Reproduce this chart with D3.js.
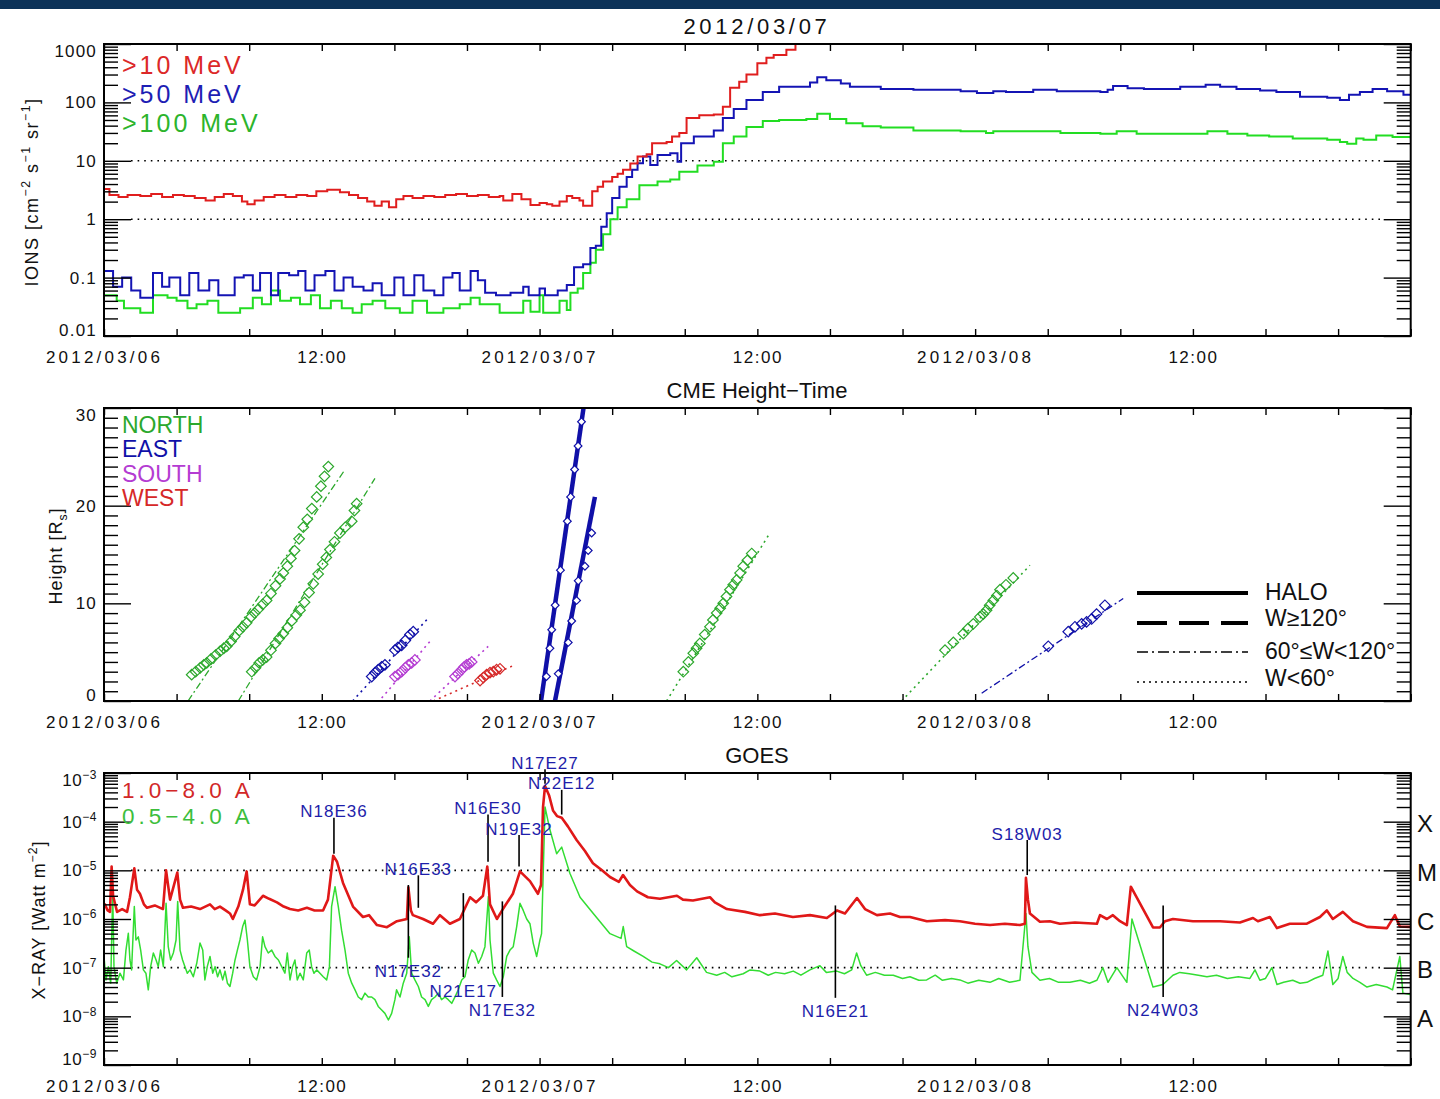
<!DOCTYPE html>
<html>
<head>
<meta charset="utf-8">
<script src="https://cdn.jsdelivr.net/npm/d3@7"></script>
<style>
  body { margin: 0; background: #fff; }
  svg { display: block; font-family: "Liberation Sans", Arial, sans-serif; }
</style>
</head>
<body>
<svg id="chart" width="1440" height="1099"></svg>
<script>
// ---------------------------------------------------------------- data
// Time is in hours from 2012/03/06 00:00 UT.
const timeTickLabels = ["2012/03/06", "12:00", "2012/03/07", "12:00", "2012/03/08", "12:00"];
const panelTitles = ["2012/03/07", "CME Height\u2212Time", "GOES"];

// Integral proton flux, [hour, pfu]
const protonLabels = [">10 MeV", ">50 MeV", ">100 MeV"];
const protonTicks = [0.01, 0.1, 1, 10, 100, 1000];
const protonTickLabels = ["0.01", "0.1", "1", "10", "100", "1000"];
const protonRefLevels = [10, 1];

const protonGt10 = [
  [0,3.3],[0.3,2.6],[0.8,2.4],[1.3,2.6],[2,2.5],[2.6,2.7],[3.2,2.4],[3.8,2.6],[4.4,2.5],[5,2.3],
  [5.6,2.1],[6.1,2.4],[6.6,2.7],[7.1,2.5],[7.6,2.0],[7.9,1.8],[8.3,2.1],[8.8,2.4],[9.4,2.6],[10,2.4],
  [10.6,2.6],[11.2,2.5],[11.7,3.0],[12.3,3.2],[13,2.9],[13.5,2.6],[14,2.3],[14.5,2.0],[14.9,1.7],[15.3,2.0],
  [15.7,1.6],[16.1,2.2],[16.5,2.5],[17,2.3],[17.6,2.5],[18.2,2.4],[18.8,2.6],[19.4,2.7],[20,2.5],[20.6,2.6],
  [21.2,2.4],[21.8,2.5],[22,2.1],[22.5,2.7],[23,2.2],[23.5,1.75],[24,1.9],[24.4,1.8],[24.7,1.7],[25.1,2.0],
  [25.5,2.5],[25.8,2.3],[26.2,2.1],[26.4,1.7],[26.9,3.0],[27.2,3.6],[27.5,4.4],[28.0,5.3],[28.3,6.0],[28.6,7.0],
  [29.0,9],[29.4,11.8],[29.9,13],[30.2,20],[31.0,21],[31.3,26],[31.7,30],[32.1,54],[32.8,60],[33.6,62],
  [34.1,84],[34.5,178],[35.0,225],[35.4,300],[36.0,470],[36.5,580],[36.9,650],[37.6,800],[38.1,1000],[38.4,1300],[40,1600]
];
const protonGt50 = [
  [0,0.13],[0.5,0.07],[1,0.1],[1.5,0.06],[2,0.045],[2.7,0.12],[3.2,0.07],[3.6,0.1],[4.2,0.05],[4.7,0.12],
  [5.2,0.06],[5.8,0.09],[6.3,0.05],[7.2,0.1],[7.7,0.11],[8.2,0.06],[8.6,0.12],[9.2,0.05],[9.6,0.12],[10.2,0.11],
  [10.7,0.13],[11.1,0.06],[11.6,0.11],[12.2,0.13],[12.7,0.06],[13.2,0.1],[13.7,0.07],[14.3,0.06],[14.8,0.08],[15.3,0.05],
  [16.0,0.1],[16.5,0.05],[17.1,0.11],[17.6,0.06],[18.2,0.05],[18.7,0.1],[19.2,0.12],[19.6,0.06],[20.2,0.13],[20.6,0.09],
  [21.0,0.055],[21.6,0.05],[22.4,0.055],[23.1,0.07],[23.4,0.05],[24.0,0.065],[24.3,0.05],[25.0,0.06],[25.5,0.075],[25.9,0.15],
  [26.4,0.17],[26.8,0.32],[27.1,0.35],[27.4,0.74],[27.7,1.27],[28.0,2.3],[28.4,3.6],[28.8,5.3],[29.1,7],[29.4,9.1],
  [29.7,11.8],[30.1,8.5],[30.5,12.6],[31.2,13.5],[31.6,9.6],[31.8,20],[32.5,26],[33.6,33],[34.1,54],[34.7,77],
  [35.4,110],[36.3,150],[37.2,185],[38.9,220],[39.3,270],[39.8,240],[40.6,210],[41.1,185],[42.8,170],[44.6,165],
  [47.2,155],[48.1,145],[49.0,155],[49.7,150],[51.2,165],[52.5,155],[54.9,150],[55.3,165],[55.6,190],[56.4,175],
  [57.3,170],[59.3,185],[60.7,200],[61.5,185],[62.4,170],[63.7,160],[64.6,150],[65.9,125],[67.4,120],[68.1,110],
  [68.6,135],[69.2,150],[69.9,170],[70.7,155],[71.6,135],[72,135]
];
const protonGt100 = [
  [0,0.05],[0.7,0.04],[1.1,0.03],[2.0,0.025],[2.7,0.05],[3.5,0.045],[4.0,0.04],[4.6,0.03],[5.1,0.035],[5.7,0.04],
  [6.3,0.025],[7.5,0.03],[8.2,0.045],[8.7,0.035],[9.2,0.06],[9.7,0.04],[10.3,0.045],[10.8,0.035],[11.4,0.05],[11.9,0.03],
  [12.5,0.04],[13.1,0.03],[13.7,0.025],[14.2,0.035],[14.8,0.04],[15.5,0.03],[16.3,0.025],[17.0,0.04],[17.8,0.025],[18.7,0.03],
  [19.6,0.035],[20.2,0.045],[20.7,0.035],[21.8,0.025],[23.1,0.04],[23.5,0.026],[24.0,0.05],[24.2,0.025],[25.1,0.04],[25.5,0.028],
  [25.7,0.055],[26.1,0.065],[26.4,0.12],[26.8,0.18],[27.1,0.3],[27.5,0.55],[27.9,1.0],[28.3,1.6],[28.8,2.2],[29.5,3.8],
  [30.5,4.4],[31.2,4.8],[31.7,6.5],[32.7,8.3],[33.6,9.6],[34.1,20],[34.7,26],[35.4,38],[36.3,48],[37.2,50],
  [38.7,52],[39.3,64],[40.0,52],[40.9,44],[41.8,39],[42.8,37],[44.6,33],[47.2,32],[48.6,30],[49.0,32],
  [52.7,30],[54.9,29],[55.8,32],[56.9,29],[60.8,32],[61.9,29],[63.0,27],[64.2,26],[65.5,24],[67.4,23],
  [68.1,21],[68.5,19.5],[69.0,24],[69.4,23],[70.1,27],[71.0,25.5],[72,24]
];

// CME height-time tracks
const cmeDirections = ["NORTH", "EAST", "SOUTH", "WEST"];
const cmeWidthClasses = ["HALO", "W\u2265120\u00b0", "60\u00b0\u2264W<120\u00b0", "W<60\u00b0"];
const heightTicks = [0, 10, 20, 30];
// [direction, width class, fit start hour, fit start height, fit end hour, fit end height]
const cmeFits = [
  ["NORTH", "60\u00b0\u2264W<120\u00b0", 4.63, 0, 13.28, 23.7],
  ["NORTH", "60\u00b0\u2264W<120\u00b0", 7.4, 0, 14.93, 22.8],
  ["EAST", "W<60\u00b0", 13.7, 0, 17.87, 8.5],
  ["SOUTH", "W<60\u00b0", 15.3, 0.3, 17.96, 6.1],
  ["SOUTH", "W<60\u00b0", 17.96, 0, 21.17, 5.6],
  ["WEST", "W<60\u00b0", 18.15, 0, 22.64, 3.7],
  ["EAST", "HALO", 24.08, 0, 26.5, 31],
  ["EAST", "HALO", 24.85, 0, 27.05, 20.9],
  ["NORTH", "W<60\u00b0", 31.0, 0, 36.69, 17.2],
  ["NORTH", "W<60\u00b0", 43.95, 0, 51.02, 13.9],
  ["EAST", "60\u00b0\u2264W<120\u00b0", 48.36, 0.8, 56.16, 10.5]
];
// measured heights, [hour, solar radii], one list per track above
const cmeHeights = [
  [[4.83,2.7],[5.05,3.0],[5.3,3.4],[5.5,3.7],[5.66,3.9],[5.9,4.3],[6.15,4.7],[6.4,5.1],[6.6,5.4],[6.76,5.6],
   [7.0,6.1],[7.2,6.6],[7.45,7.2],[7.65,7.6],[7.86,8.0],[8.1,8.6],[8.3,9.0],[8.5,9.4],[8.75,9.9],[8.96,10.3],
   [9.2,11.0],[9.45,11.8],[9.7,12.5],[9.88,13.1],[10.1,13.8],[10.3,14.6],[10.5,15.4],[10.75,16.6],[10.98,17.8],[11.2,18.6],
   [11.45,19.7],[11.72,20.9],[11.95,22.0],[12.15,23.0],[12.36,24.0]],
  [[8.14,3.0],[8.35,3.4],[8.55,3.9],[8.75,4.2],[8.96,4.5],[9.2,5.2],[9.45,5.9],[9.65,6.4],[9.88,6.9],[10.1,7.5],
   [10.35,8.2],[10.6,8.8],[10.8,9.3],[11.05,10.1],[11.3,11.1],[11.53,12.0],[11.8,13.0],[12.05,14.0],[12.25,14.7],[12.45,15.5],
   [12.7,16.3],[13.0,17.2],[13.3,17.8],[13.65,18.4],[13.8,19.5],[13.92,20.2]],
  [[14.75,2.5],[14.93,2.9],[15.11,3.2],[15.3,3.5],[15.48,3.7],[16.03,5.2],[16.2,5.5],[16.4,5.7],[16.6,6.2],[16.86,6.8],[17.04,7.1]],
  [[16.03,2.5],[16.2,2.7],[16.4,3.0],[16.6,3.4],[16.77,3.7],[16.95,3.9],[17.13,4.2]],
  [[19.34,2.5],[19.5,2.8],[19.71,3.2],[19.85,3.5],[19.98,3.7],[20.12,3.8],[20.26,4.0]],
  [[20.72,2.1],[20.9,2.4],[21.08,2.7],[21.27,2.9],[21.45,3.0],[21.63,3.2],[21.82,3.3]],
  [[24.38,2.5],[24.57,5.4],[24.67,7.3],[24.86,9.8],[25.15,13.4],[25.53,18.4],[25.71,20.9],[25.93,23.7],[26.12,26.1],[26.31,28.6]],
  [[25.03,2.8],[25.58,6.0],[25.77,8.2],[26.04,10.3],[26.13,12.3],[26.5,13.8],[26.68,15.4],[26.87,17.2]],
  [[31.92,3.0],[32.2,4.0],[32.47,4.9],[32.65,5.4],[32.83,5.9],[33.1,6.8],[33.39,7.6],[33.55,8.3],[33.76,9.0],[33.95,9.5],
   [34.12,10.0],[34.3,10.7],[34.49,11.4],[34.67,11.9],[34.86,12.4],[35.05,13.1],[35.22,13.8],[35.45,14.4],[35.69,15.1]],
  [[46.34,5.2],[46.8,6.0],[47.35,6.9],[47.6,7.4],[47.9,7.9],[48.26,8.6],[48.45,8.9],[48.63,9.3],[48.8,9.8],[49.0,10.3],
   [49.2,10.8],[49.37,11.4],[49.7,11.9],[50.1,12.6]],
  [[52.03,5.6],[53.13,7.1],[53.5,7.6],[53.87,7.9],[54.14,8.1],[54.42,8.4],[54.69,8.9],[55.15,9.8]]
];

// GOES X-ray flux, [hour, W m^-2]
const xrayLabels = ["1.0\u22128.0 A", "0.5\u22124.0 A"];
const xrayTickExponents = [-9, -8, -7, -6, -5, -4, -3];
const xrayRefLevels = [1e-5, 1e-7];
const flareClasses = ["X", "M", "C", "B", "A"];
const flareClassFlux = [1e-4, 1e-5, 1e-6, 1e-7, 1e-8];

const goesLong = [
  [0,2e-6],[0.05,2e-6],[0.2,1.5e-6],[0.33,1.4e-6],[0.42,1.2e-5],[0.5,3e-6],[0.72,1.4e-6],[1.0,1.6e-6],[1.27,1.4e-6],[1.43,2.8e-6],[1.67,1.1e-5],
  [1.82,4e-6],[1.98,3.3e-6],[2.2,2e-6],[2.37,1.7e-6],[2.8,1.9e-6],[3.25,1.6e-6],[3.42,1e-5],[3.64,2.5e-6],[4.04,9e-6],[4.19,2.5e-6],[4.35,1.7e-6],
  [4.8,1.8e-6],[5.29,1.6e-6],[5.84,2e-6],[6.1,1.6e-6],[6.39,1.8e-6],[6.7,1.5e-6],[6.94,1.3e-6],[7.1,1e-6],[7.4,1.8e-6],[7.66,4e-6],[7.86,9.5e-6],[8.04,2e-6],
  [8.3,1.9e-6],[8.76,3e-6],[9.1,2.6e-6],[9.53,2.2e-6],[9.9,1.8e-6],[10.25,1.6e-6],[10.7,1.5e-6],[11.18,1.7e-6],[11.6,1.5e-6],[12.07,1.5e-6],
  [12.34,2.5e-6],[12.63,2e-5],[12.84,1.5e-5],[13.17,5.5e-6],[13.72,1.8e-6],[14.27,1.1e-6],[14.6,1.2e-6],[15.04,7.5e-7],[15.59,6.8e-7],
  [16.14,9e-7],[16.69,1e-6],[16.77,4.5e-6],[16.91,1.5e-6],[17.02,1.2e-6],[17.58,1e-6],[18.13,8e-7],[18.51,1.2e-6],[19.06,8e-7],[19.61,1e-6],
  [20.17,2.8e-6],[20.5,2.2e-6],[20.88,3e-6],[21.12,1.2e-5],[21.27,2e-6],[21.65,1e-6],[21.98,1.6e-6],[22.53,3.3e-6],[22.92,9.5e-6],[23.47,6e-6],[23.91,3.3e-6],
  [24.08,5e-6],[24.19,2e-4],[24.3,5.4e-4],[24.52,3.5e-4],[24.74,1.7e-4],[24.96,1.3e-4],[25.22,1.2e-4],[25.56,8e-5],[26.04,4.2e-5],[26.5,2.5e-5],
  [26.94,1.4e-5],[27.44,1e-5],[27.88,7.3e-6],[28.37,5.8e-6],[28.6,8e-6],[28.98,5e-6],[29.37,3.7e-6],[29.97,2.8e-6],[30.63,2.6e-6],[31.57,3e-6],
  [31.9,2.5e-6],[32.45,2.4e-6],[33.39,2.8e-6],[33.66,2.2e-6],[34.32,1.6e-6],[35.32,1.4e-6],[36.14,1.2e-6],[36.97,1.3e-6],[37.96,1.1e-6],[38.9,1.2e-6],
  [39.83,1.05e-6],[40.39,1.5e-6],[40.83,1.3e-6],[41.49,2.7e-6],[41.93,1.6e-6],[42.59,1.2e-6],[43.31,1.3e-6],[43.86,1.1e-6],[44.41,1.1e-6],[45.34,9e-7],
  [46.34,9.5e-7],[47.16,9e-7],[47.99,8e-7],[48.82,7.5e-7],[49.64,8e-7],[50.47,7.5e-7],[50.74,8e-7],[50.8,7e-6],[50.91,2.5e-6],[51.02,1.3e-6],
  [51.57,8.8e-7],[52.12,9e-7],[52.67,8e-7],[53.5,8.5e-7],[54.71,8e-7],[54.88,1.2e-6],[55.26,1e-6],[55.59,1.2e-6],[55.98,9e-7],[56.36,7.5e-7],
  [56.58,4.6e-6],[57.8,6.7e-7],[58.18,6.7e-7],[58.46,9e-7],[58.9,1e-6],[60.0,9e-7],[61.49,9e-7],[62.59,8.5e-7],[63.31,1.05e-6],[63.58,9e-7],
  [64.24,1.1e-6],[64.63,6.5e-7],[65.34,8e-7],[66.28,8e-7],[67.0,1.1e-6],[67.38,1.5e-6],[67.71,1e-6],[68.26,1.4e-6],[68.82,9e-7],[69.59,6.9e-7],
  [70.69,6.5e-7],[71.13,1.2e-6],[71.4,7e-7],[71.96,6.9e-7]
];
const goesShort = [
  [0,1.7e-7],[0.11,5.6e-8],[0.24,1.05e-7],[0.37,4.8e-8],[0.48,3.4e-6],[0.55,1.05e-7],[0.7,4.8e-8],[0.88,7.7e-8],[1.07,5.6e-8],[1.21,2.3e-7],
  [1.34,5.1e-7],[1.43,1.44e-7],[1.52,9e-8],[1.67,1.8e-6],[1.76,3.7e-7],[1.89,4.3e-7],[2.02,2.3e-7],[2.17,9e-8],[2.31,7.7e-8],[2.44,3.5e-8],
  [2.57,1.05e-7],[2.72,2e-7],[2.87,1.44e-7],[2.99,1.05e-7],[3.12,2.3e-7],[3.27,1.05e-7],[3.42,2.1e-6],[3.54,2.7e-7],[3.67,1.44e-7],[3.82,2e-7],
  [3.97,3.7e-7],[4.06,2.3e-6],[4.19,2.3e-7],[4.33,1.44e-7],[4.46,1.05e-7],[4.59,7.7e-8],[4.74,9e-8],[4.92,6.5e-8],[5.11,1.23e-7],[5.29,3.2e-7],
  [5.44,2.3e-7],[5.56,5.6e-8],[5.69,1.05e-7],[5.84,1.7e-7],[5.99,7.7e-8],[6.12,1.05e-7],[6.26,6.5e-8],[6.39,9e-8],[6.54,5.6e-8],[6.67,8.5e-8],
  [6.8,4.8e-8],[6.94,4.1e-8],[7.09,7.7e-8],[7.22,1.44e-7],[7.35,2.3e-7],[7.49,3.7e-7],[7.64,7e-7],[7.77,9.5e-7],[7.9,3.7e-7],[8.04,1.05e-7],
  [8.23,6.5e-8],[8.41,5.6e-8],[8.6,1.05e-7],[8.74,4.3e-7],[8.87,2.7e-7],[9.05,2e-7],[9.24,2.3e-7],[9.42,1.7e-7],[9.61,1.44e-7],[9.79,1.05e-7],
  [9.97,7.7e-8],[10.1,2e-7],[10.25,5.6e-8],[10.39,1.05e-7],[10.52,1.44e-7],[10.65,5.6e-8],[10.8,7.7e-8],[10.98,5.6e-8],[11.17,2e-7],[11.31,2.3e-7],
  [11.44,1.05e-7],[11.57,7.7e-8],[11.72,9e-8],[11.9,7.7e-8],[12.08,6.5e-8],[12.27,5.6e-8],[12.42,1.05e-7],[12.54,1.8e-6],[12.73,4.6e-6],[12.91,1.8e-6],
  [13.09,5.9e-7],[13.28,2.3e-7],[13.46,7.7e-8],[13.65,4.8e-8],[13.83,3.5e-8],[14.01,2.5e-8],[14.2,2.2e-8],[14.38,3e-8],[14.56,2.5e-8],[14.75,2.5e-8],
  [14.93,2.2e-8],[15.11,1.6e-8],[15.3,1.35e-8],[15.48,1.15e-8],[15.67,8.4e-9],[15.85,1.15e-8],[16.03,2.2e-8],[16.12,3.5e-8],[16.31,2.5e-8],[16.49,4.8e-8],
  [16.68,7.7e-8],[16.82,4.3e-7],[16.95,7.7e-8],[17.13,5.6e-8],[17.32,4.1e-8],[17.5,2.5e-8],[17.69,2.2e-8],[17.87,1.6e-8],[18.05,2.2e-8],[18.24,2.5e-8],
  [18.42,3e-8],[18.6,2.2e-8],[18.79,2.5e-8],[18.97,2.2e-8],[19.16,1.85e-8],[19.34,2.5e-8],[19.52,3.5e-8],[19.71,5.6e-8],[19.89,6.5e-8],[20.07,1.44e-7],
  [20.26,2.3e-7],[20.44,2e-7],[20.63,1.23e-7],[20.81,1.7e-7],[20.99,2.7e-7],[21.18,2.9e-6],[21.27,3.7e-7],[21.45,7.7e-8],[21.63,5.6e-8],[21.82,4.1e-8],
  [22.0,6.5e-8],[22.19,1.7e-7],[22.37,2.3e-7],[22.55,2.7e-7],[22.74,7e-7],[22.92,2.1e-6],[23.1,1.5e-6],[23.29,1e-6],[23.47,8e-7],[23.65,3.2e-7],
  [23.84,1.7e-7],[24.02,3.7e-7],[24.11,5e-7],
  [24.3,2e-4],[24.57,6.8e-5],[24.94,2.2e-5],[25.22,3e-5],[25.67,8.7e-6],[26.23,2.8e-6],[26.96,1.3e-6],[27.88,5e-7],[28.49,4e-7],[28.61,7e-7],
  [28.8,2.7e-7],[29.2,2.2e-7],[29.71,1.7e-7],[30.2,1.3e-7],[30.63,1.2e-7],[31.1,1e-7],[31.55,1.4e-7],[32.1,9e-8],[32.66,1.6e-7],[33.2,8e-8],
  [33.76,7e-8],[34.2,8e-8],[34.6,6.5e-8],[35.22,7.5e-8],[35.6,9e-8],[36.14,8.5e-8],[36.6,7e-8],[37.0,8e-8],[37.5,7.5e-8],[37.98,8.5e-8],
  [38.4,7e-8],[38.9,9e-8],[39.45,1.1e-7],[39.8,8e-8],[40.37,8.5e-8],[40.8,7.5e-8],[41.2,9e-8],[41.47,2e-7],[41.7,1.1e-7],[42.02,7e-8],
  [42.5,8e-8],[43.0,7e-8],[43.49,7e-8],[44.0,6e-8],[44.41,6.5e-8],[44.9,5.5e-8],[45.33,5.6e-8],[45.8,7e-8],[46.2,5.5e-8],[46.7,6e-8],
  [47.16,5.6e-8],[47.6,4.8e-8],[48.2,5.5e-8],[48.82,5e-8],[49.3,6e-8],[49.9,5e-8],[50.47,5.5e-8],[50.8,1.3e-6],[50.91,2.7e-7],[51.13,8e-8],
  [51.57,5.5e-8],[52.1,6e-8],[52.6,5e-8],[53.22,5e-8],[53.8,5.5e-8],[54.3,4.8e-8],[54.71,5.5e-8],[55.04,1e-7],[55.32,5e-8],[55.81,1e-7],
  [56.36,5e-8],[56.64,1e-6],[57.8,4e-8],[58.35,4.5e-8],[58.9,7e-8],[59.28,8e-8],[59.8,7.5e-8],[60.3,7e-8],[60.77,6.5e-8],[61.3,7e-8],
  [61.9,6e-8],[62.5,6.5e-8],[63.14,6e-8],[63.42,9e-8],[63.69,5.5e-8],[64.0,6e-8],[64.35,1e-7],[64.63,4.5e-8],[65.0,5e-8],[65.5,5.5e-8],
  [65.9,4.8e-8],[66.28,5e-8],[66.7,6e-8],[67.16,7e-8],[67.44,2.2e-7],[67.71,4.5e-8],[68.0,6e-8],[68.26,1.7e-7],[68.5,8e-8],[68.82,6e-8],
  [69.2,5e-8],[69.59,4e-8],[70.1,4.5e-8],[70.69,4e-8],[71.0,3.5e-8],[71.4,1.7e-7],[71.57,3e-8],[71.96,2.8e-8]
];

// Flare source locations: [hour, location, marker top flux, marker bottom flux, label side]
const flares = [
  [12.67, "N18E36", 1.2e-4, 2.2e-5, "above"],
  [16.77, "N17E32", 5e-6, 1.6e-7, "below"],
  [17.32, "N16E33", 7.9e-6, 1.7e-6, "above"],
  [19.8, "N21E17", 3.4e-6, 6.4e-8, "below"],
  [21.16, "N16E30", 1.4e-4, 1.5e-5, "above"],
  [21.95, "N17E32", 2.3e-6, 2.5e-8, "below"],
  [22.87, "N19E32", 5.3e-5, 1.2e-5, "above"],
  [24.3, "N17E27", 1.2e-3, 6e-4, "above"],
  [25.22, "N22E12", 4.5e-4, 1.4e-4, "above"],
  [40.3, "N16E21", 1.9e-6, 2.4e-8, "below"],
  [50.87, "S18W03", 4.2e-5, 8e-6, "above"],
  [58.36, "N24W03", 1.9e-6, 2.5e-8, "below"]
];

// ---------------------------------------------------------------- styles
const FONT = '"Liberation Sans", Arial, sans-serif';
const protonColors = ["#e01e1e", "#1414b4", "#22dd22"];
const protonLegendColors = ["#dc2828", "#1e1eb4", "#2cb42c"];
const dirColors = { NORTH: "#2ca82c", EAST: "#1010a8", SOUTH: "#b43cd2", WEST: "#d62828" };
const widthStyles = {
  "HALO": { w: 4.5, dash: null },
  "W\u2265120\u00b0": { w: 4.5, dash: "30,12" },
  "60\u00b0\u2264W<120\u00b0": { w: 1.3, dash: "7,3,2,3" },
  "W<60\u00b0": { w: 1.6, dash: "2,4" }
};
const xrayColors = ["#e01818", "#33dd33"];
const xrayLegendColors = ["#d22828", "#3cbe3c"];

// ---------------------------------------------------------------- layout
const svg = d3.select("#chart");
const left = 104, right = 1410.7;
const x = d3.scaleLinear().domain([0, 72]).range([left, right]);
const panels = [
  { top: 44, bottom: 336 },
  { top: 408, bottom: 701 },
  { top: 773, bottom: 1065 }
];

svg.append("rect").attr("x", 0).attr("y", 0).attr("width", 1440).attr("height", 9).attr("fill", "#0c3258");

function styleAxis(sel) {
  sel.attr("font-family", null).attr("font-size", null);
  sel.select(".domain").remove();
  sel.selectAll(".tick line").attr("stroke", "#000").attr("stroke-width", 1.4);
  sel.selectAll(".tick text").attr("fill", "#111").attr("font-family", FONT).attr("font-size", 17);
}

function timeAxes(p) {
  const ticks = d3.range(0, 73, 4);
  svg.append("g").attr("transform", `translate(0,${p.bottom})`)
    .call(d3.axisBottom(x).tickValues(ticks).tickSize(-7).tickPadding(15)
      .tickFormat(h => (h % 12 === 0 && h < 72) ? timeTickLabels[h / 12] : ""))
    .call(styleAxis)
    .selectAll(".tick text").attr("letter-spacing", d => d % 24 === 0 ? 3.2 : 1.5);
  svg.append("g").attr("transform", `translate(0,${p.top})`)
    .call(d3.axisTop(x).tickValues(ticks).tickSize(-7).tickFormat(""))
    .call(styleAxis);
}

// value axes: long major ticks and short minor ticks on both sides
function valueAxes(y, majors, minors, fmt) {
  svg.append("g").attr("transform", `translate(${left},0)`)
    .call(d3.axisLeft(y).tickValues(minors).tickSize(-14).tickFormat("")).call(styleAxis);
  svg.append("g").attr("transform", `translate(${right},0)`)
    .call(d3.axisRight(y).tickValues(minors).tickSize(-14).tickFormat("")).call(styleAxis);
  svg.append("g").attr("transform", `translate(${right},0)`)
    .call(d3.axisRight(y).tickValues(majors).tickSize(-27).tickFormat("")).call(styleAxis);
  const g = svg.append("g").attr("transform", `translate(${left},0)`)
    .call(d3.axisLeft(y).tickValues(majors).tickSize(-27).tickPadding(7).tickFormat(fmt))
    .call(styleAxis);
  const texts = g.selectAll(".tick text").attr("letter-spacing", 1.2);
  // end labels sit just inside the frame
  const n = majors.length;
  texts.attr("transform", (d, i) => i === 0 ? "translate(0,-6)" : i === n - 1 ? "translate(0,7)" : null);
  return g;
}

function frame(p) {
  svg.append("rect").attr("x", left).attr("y", p.top)
    .attr("width", right - left).attr("height", p.bottom - p.top)
    .attr("fill", "none").attr("stroke", "#000").attr("stroke-width", 2);
}

function clipFor(id, p) {
  svg.append("clipPath").attr("id", id).append("rect")
    .attr("x", left).attr("y", p.top).attr("width", right - left).attr("height", p.bottom - p.top);
  return `url(#${id})`;
}

function refLines(y, levels) {
  svg.append("g").selectAll("line").data(levels).join("line")
    .attr("x1", left + 27).attr("x2", right - 27)
    .attr("y1", d => y(d)).attr("y2", d => y(d))
    .attr("stroke", "#000").attr("stroke-width", 1.6).attr("stroke-dasharray", "1.6,5");
}

function title(text, p, ls) {
  svg.append("text").attr("x", 757).attr("y", p.top - 10)
    .attr("text-anchor", "middle").attr("font-family", FONT).attr("font-size", 22)
    .attr("letter-spacing", ls).attr("fill", "#111").text(text);
}

// text with super/subscript parts: [string, level] (1 = super, -1 = sub)
function rich(sel, parts, size) {
  let cur = 0;
  parts.forEach(([s, lvl]) => {
    const target = lvl === 1 ? -0.42 * size : lvl === -1 ? 0.3 * size : 0;
    sel.append("tspan").attr("dy", target - cur)
      .attr("font-size", lvl ? size * 0.68 : size).text(s);
    cur = target;
  });
}

function yTitle(cx, cy, parts, ls) {
  const t = svg.append("text").attr("transform", `translate(${cx},${cy}) rotate(-90)`)
    .attr("text-anchor", "middle").attr("font-family", FONT).attr("fill", "#111")
    .attr("letter-spacing", ls);
  rich(t, parts, 18);
}

function logMinors(lo, hi) {
  const out = [];
  for (let e = lo; e < hi; e++) for (let k = 2; k <= 9; k++) out.push(k * Math.pow(10, e));
  return out;
}

// ---------------------------------------------------------------- panel 1: protons
{
  const p = panels[0];
  const y = d3.scaleLog().domain([0.01, 1000]).range([p.bottom, p.top]);
  refLines(y, protonRefLevels);
  const clip = clipFor("clipIons", p);
  const line = d3.line().x(d => x(d[0])).y(d => y(d[1])).curve(d3.curveStepAfter);
  [protonGt100, protonGt50, protonGt10].forEach((s, i) => {
    svg.append("path").datum(s).attr("clip-path", clip)
      .attr("fill", "none").attr("stroke", protonColors[2 - i]).attr("stroke-width", 2)
      .attr("stroke-linejoin", "miter").attr("d", line);
  });
  valueAxes(y, protonTicks, logMinors(-2, 3), d => protonTickLabels[protonTicks.indexOf(d)]);
  timeAxes(p);
  frame(p);
  title(panelTitles[0], p, 3.7);
  svg.append("g").selectAll("text").data(protonLabels).join("text")
    .attr("x", 122).attr("y", (d, i) => 74 + i * 29)
    .attr("font-family", FONT).attr("font-size", 25).attr("letter-spacing", 3)
    .attr("fill", (d, i) => protonLegendColors[i]).text(d => d);
  yTitle(38, 192, [["IONS [cm", 0], ["\u22122", 1], [" s", 0], ["\u22121", 1], [" sr", 0], ["\u22121", 1], ["]", 0]], 1.5);
}

// ---------------------------------------------------------------- panel 2: CME height-time
{
  const p = panels[1];
  const y = d3.scaleLinear().domain([0, 30]).range([p.bottom, p.top]);
  const clip = clipFor("clipCme", p);
  const g = svg.append("g").attr("clip-path", clip);
  cmeFits.forEach((c, i) => {
    const [dir, cls, t0, h0, t1, h1] = c;
    const st = widthStyles[cls];
    g.append("line")
      .attr("x1", x(t0)).attr("y1", y(h0)).attr("x2", x(t1)).attr("y2", y(h1))
      .attr("stroke", dirColors[dir]).attr("stroke-width", st.w)
      .attr("stroke-dasharray", st.dash);
    const diamond = d3.symbol().type(d3.symbolSquare).size(cls === "HALO" ? 30 : 56);
    g.append("g").selectAll("path").data(cmeHeights[i]).join("path")
      .attr("transform", d => `translate(${x(d[0])},${y(d[1])}) rotate(45)`)
      .attr("d", diamond)
      .attr("fill", cls === "HALO" ? "#fff" : "none")
      .attr("stroke", dirColors[dir]).attr("stroke-width", 1.2);
  });
  const heightMinors = d3.range(0, 31).filter(v => v % 10 !== 0);
  valueAxes(y, heightTicks, heightMinors, d => String(d));
  timeAxes(p);
  frame(p);
  title(panelTitles[1], p, 0.1);
  svg.append("g").selectAll("text").data(cmeDirections).join("text")
    .attr("x", 122).attr("y", (d, i) => 433 + i * 24.3)
    .attr("font-family", FONT).attr("font-size", 23)
    .attr("fill", d => dirColors[d]).text(d => d);
  // width class key
  const key = svg.append("g");
  const rowY = [593, 623, 652, 682];
  cmeWidthClasses.forEach((c, i) => {
    const st = widthStyles[c];
    key.append("line").attr("x1", 1137).attr("x2", 1248).attr("y1", rowY[i]).attr("y2", rowY[i])
      .attr("stroke", "#000").attr("stroke-width", i < 2 ? 4 : 1.4)
      .attr("stroke-dasharray", i === 2 ? "11,4,2,4" : st.dash);
    key.append("text").attr("x", 1265).attr("y", rowY[i] + (i === 1 ? 3 : 7) - (i === 3 ? 3 : 0))
      .attr("font-family", FONT).attr("font-size", 23).attr("fill", "#111").text(c);
  });
  yTitle(62, 556, [["Height [R", 0], ["s", -1], ["]", 0]], 1);
}

// ---------------------------------------------------------------- panel 3: GOES X-rays
{
  const p = panels[2];
  const y = d3.scaleLog().domain([1e-9, 1e-3]).range([p.bottom, p.top]);
  refLines(y, xrayRefLevels);
  const clip = clipFor("clipXray", p);
  const line = d3.line().x(d => x(d[0])).y(d => y(d[1]));
  svg.append("path").datum(goesShort).attr("clip-path", clip)
    .attr("fill", "none").attr("stroke", xrayColors[1]).attr("stroke-width", 1.5)
    .attr("stroke-linejoin", "round").attr("d", line);
  svg.append("path").datum(goesLong).attr("clip-path", clip)
    .attr("fill", "none").attr("stroke", xrayColors[0]).attr("stroke-width", 2.6)
    .attr("stroke-linejoin", "round").attr("d", line);

  const majors = xrayTickExponents.map(e => Math.pow(10, e));
  const g = valueAxes(y, majors, logMinors(-9, -3), () => "10");
  g.selectAll(".tick text").attr("letter-spacing", 0.6).each(function (d, i) {
    d3.select(this).append("tspan").attr("dy", "-0.55em").attr("font-size", 12)
      .attr("letter-spacing", 0.5).text("\u2212" + (-xrayTickExponents[i]));
  });
  timeAxes(p);
  frame(p);
  title(panelTitles[2], p, 0);

  // flare markers and source locations
  const fg = svg.append("g");
  flares.forEach(([t, loc, top, bot, side]) => {
    fg.append("line").attr("x1", x(t)).attr("x2", x(t)).attr("y1", y(top)).attr("y2", y(bot))
      .attr("stroke", "#000").attr("stroke-width", 1.6);
    fg.append("text").attr("x", x(t)).attr("y", side === "above" ? y(top) - 0.5 : y(bot) + 19.5)
      .attr("text-anchor", "middle").attr("font-family", FONT).attr("font-size", 17)
      .attr("letter-spacing", 1).attr("fill", "#1e1eaa").text(loc);
  });

  svg.append("g").selectAll("text").data(flareClasses).join("text")
    .attr("x", 1417).attr("y", (d, i) => y(flareClassFlux[i]) + 10.5)
    .attr("font-family", FONT).attr("font-size", 24).attr("fill", "#111").text(d => d);

  svg.append("g").selectAll("text").data(xrayLabels).join("text")
    .attr("x", 122).attr("y", (d, i) => 798 + i * 26)
    .attr("font-family", FONT).attr("font-size", 22.5).attr("letter-spacing", 4)
    .attr("fill", (d, i) => xrayLegendColors[i]).text(d => d);
  yTitle(45, 920, [["X\u2212RAY [Watt m", 0], ["\u22122", 1], ["]", 0]], 1);
}
</script>
</body>
</html>
